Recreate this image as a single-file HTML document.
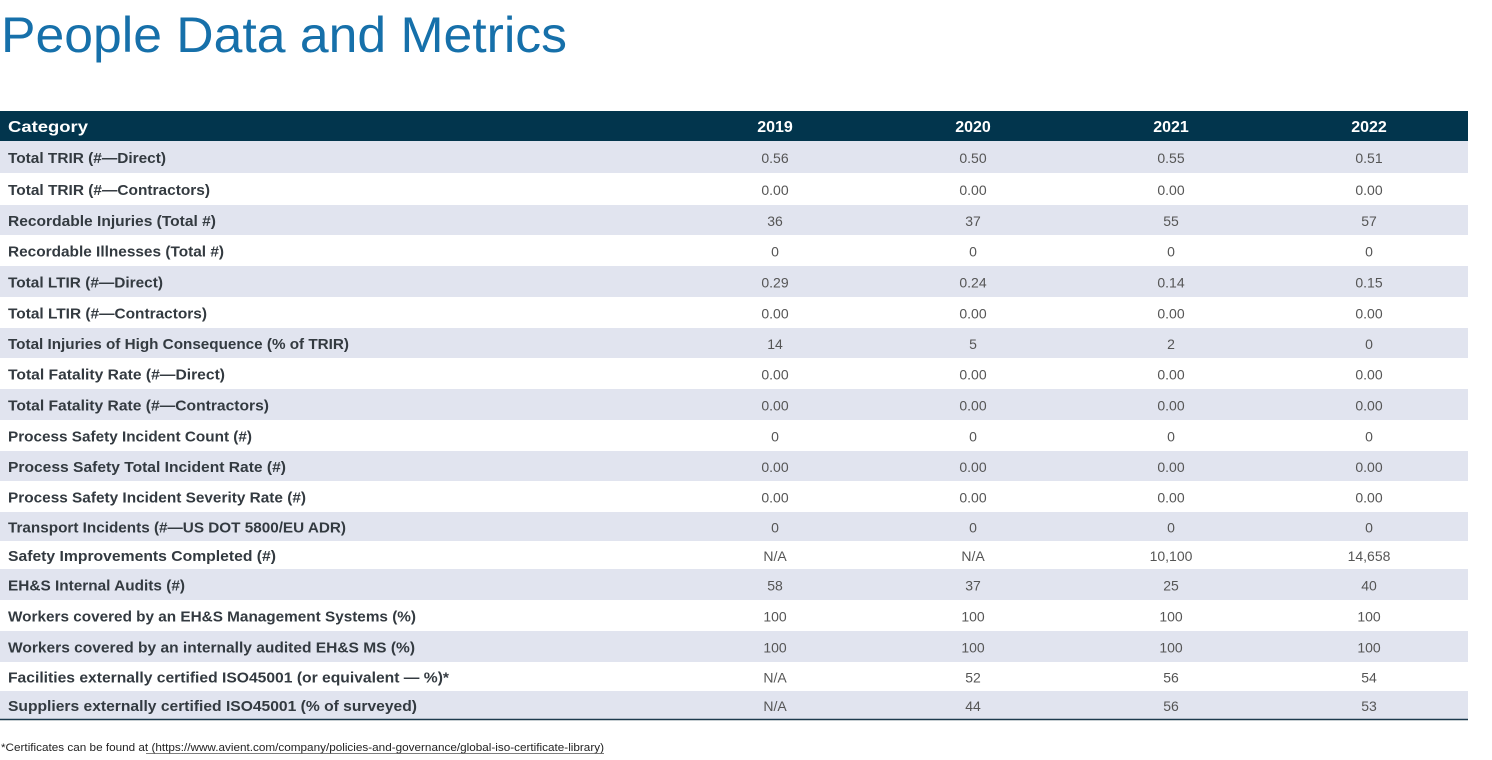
<!DOCTYPE html>
<html><head><meta charset="utf-8"><style>
html,body{margin:0;padding:0;background:#fff;}
svg{display:block;}
.l{font-family:"Liberation Sans",sans-serif;font-weight:bold;font-size:15px;fill:#333a40;}
.n{font-family:"Liberation Sans",sans-serif;font-size:14px;fill:#555;text-anchor:middle;}
.h{font-family:"Liberation Sans",sans-serif;font-weight:bold;font-size:16px;fill:#fff;}
</style></head><body>
<svg width="1492" height="760" xmlns="http://www.w3.org/2000/svg">
<text x="1" y="52" font-family="Liberation Sans, sans-serif" font-size="50" fill="#1670aa" textLength="566" lengthAdjust="spacingAndGlyphs">People Data and Metrics</text>
<rect x="0" y="111" width="1468" height="30" fill="#02354d"/>
<text class="h" x="8" y="132" textLength="80" lengthAdjust="spacingAndGlyphs">Category</text>
<text class="h" x="775" y="132" text-anchor="middle">2019</text>
<text class="h" x="973" y="132" text-anchor="middle">2020</text>
<text class="h" x="1171" y="132" text-anchor="middle">2021</text>
<text class="h" x="1369" y="132" text-anchor="middle">2022</text>
<g id="rows"></g>
<line x1="0" y1="719.5" x2="1468" y2="719.5" stroke="#1d3a4d" stroke-width="1.5"/>
<text x="1" y="751" font-family="Liberation Sans, sans-serif" font-size="11" fill="#222" textLength="603" lengthAdjust="spacingAndGlyphs">*Certificates can be found at (https://www.avient.com/company/policies-and-governance/global-iso-certificate-library)</text>
<line x1="146" y1="753.5" x2="604" y2="753.5" stroke="#555" stroke-width="0.8"/>
<script>
var b=[141,173,205,235,266,297,328,358,389,420,451,481,512,541,569,600,631,662,691,719];
var d=[
["Total TRIR (#\u2014Direct)",158,"0.56","0.50","0.55","0.51"],
["Total TRIR (#\u2014Contractors)",202,"0.00","0.00","0.00","0.00"],
["Recordable Injuries (Total #)",208,"36","37","55","57"],
["Recordable Illnesses (Total #)",216,"0","0","0","0"],
["Total LTIR (#\u2014Direct)",155,"0.29","0.24","0.14","0.15"],
["Total LTIR (#\u2014Contractors)",199,"0.00","0.00","0.00","0.00"],
["Total Injuries of High Consequence (% of TRIR)",341,"14","5","2","0"],
["Total Fatality Rate (#\u2014Direct)",217,"0.00","0.00","0.00","0.00"],
["Total Fatality Rate (#\u2014Contractors)",261,"0.00","0.00","0.00","0.00"],
["Process Safety Incident Count (#)",244,"0","0","0","0"],
["Process Safety Total Incident Rate (#)",278,"0.00","0.00","0.00","0.00"],
["Process Safety Incident Severity Rate (#)",298,"0.00","0.00","0.00","0.00"],
["Transport Incidents (#\u2014US DOT 5800/EU ADR)",338,"0","0","0","0"],
["Safety Improvements Completed (#)",268,"N/A","N/A","10,100","14,658"],
["EH&S Internal Audits (#)",177,"58","37","25","40"],
["Workers covered by an EH&S Management Systems (%)",408,"100","100","100","100"],
["Workers covered by an internally audited EH&S MS (%)",407,"100","100","100","100"],
["Facilities externally certified ISO45001 (or equivalent \u2014 %)*",441,"N/A","52","56","54"],
["Suppliers externally certified ISO45001 (% of surveyed)",409,"N/A","44","56","53"]];
var ns="http://www.w3.org/2000/svg",g=document.getElementById("rows"),cx=[775,973,1171,1369];
function el(t,a,txt){var e=document.createElementNS(ns,t);for(var k in a)e.setAttribute(k,a[k]);if(txt!=null)e.textContent=txt;g.appendChild(e);}
d.forEach(function(r,i){var y0=b[i],y1=b[i+1],m=(y0+y1)/2;
if(i%2==0)el("rect",{x:0,y:y0,width:1468,height:y1-y0,fill:"#e1e4ef"});
el("text",{"class":"l",x:8,y:m+6,textLength:r[1],lengthAdjust:"spacingAndGlyphs"},r[0]);
for(var j=0;j<4;j++)el("text",{"class":"n",x:cx[j],y:m+6},r[j+2]);});
</script>
</svg>
</body></html>
